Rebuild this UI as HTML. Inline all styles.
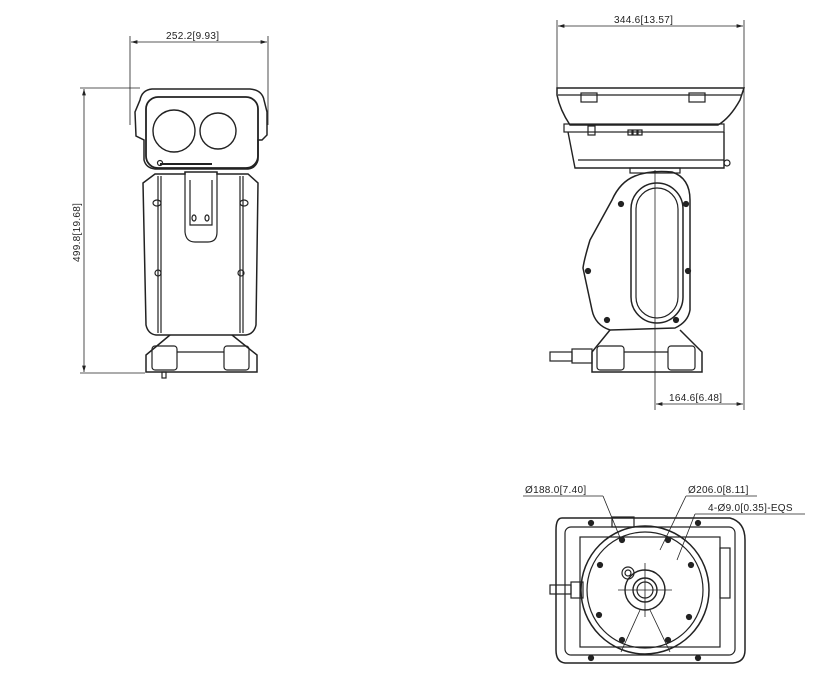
<!DOCTYPE html>
<html><head><meta charset="utf-8"><style>
html,body{margin:0;padding:0;background:#fff}
svg{display:block}
text{font-family:"Liberation Sans",sans-serif;font-size:10px;fill:#222;letter-spacing:0.3px}
</style></head><body>
<svg width="818" height="675" viewBox="0 0 818 675" xmlns="http://www.w3.org/2000/svg">
<defs>
<marker id="a" viewBox="0 0 10 6" refX="10" refY="3" markerWidth="8" markerHeight="5" orient="auto-start-reverse"><path d="M0 0L10 3L0 6z" fill="#222"/></marker>
</defs>
<g fill="none" stroke="#222" stroke-width="1.2">
<line x1="130" y1="36" x2="130" y2="125" stroke-width="0.8"/>
<line x1="268" y1="36" x2="268" y2="125" stroke-width="0.8"/>
<line x1="131" y1="42" x2="267" y2="42" marker-start="url(#a)" marker-end="url(#a)" stroke-width="0.8"/>
<line x1="80" y1="88" x2="140" y2="88" stroke-width="0.8"/>
<line x1="80" y1="373" x2="145" y2="373" stroke-width="0.8"/>
<line x1="84" y1="89" x2="84" y2="372" marker-start="url(#a)" marker-end="url(#a)" stroke-width="0.8"/>
<path d="M140 100 Q142 90 152 89 L250 89 Q262 90 264 100 L267 112 L267 135 L262 140 L258 140 L258 160 Q256 168 248 169 L155 169 Q146 168 144 160 L144 140 L136 136 L135 112 Z" stroke-width="1.5"/>
<rect x="146" y="97" width="112" height="71" rx="12" stroke-width="1.8"/>
<circle cx="174" cy="131" r="21" stroke-width="1.4"/>
<circle cx="218" cy="131" r="18" stroke-width="1.4"/>
<line x1="160" y1="164" x2="212" y2="164" stroke-width="2"/>
<circle cx="160" cy="163" r="2.5"/>
<path d="M143 183 L155 174 L185 174 L185 172 L217 172 L217 174 L248 174 L258 183 L256 325 Q254 334 246 335 L156 335 Q148 334 146 325 Z" stroke-width="1.5"/>
<line x1="158" y1="176" x2="158" y2="333"/><line x1="161" y1="176" x2="161" y2="333"/>
<line x1="240" y1="176" x2="240" y2="333"/><line x1="243" y1="176" x2="243" y2="333"/>
<path d="M185 172 L185 232 Q186 242 195 242 L208 242 Q217 242 217 232 L217 172"/>
<path d="M190 180 L190 225 L212 225 L212 180"/>
<ellipse cx="194" cy="218" rx="2" ry="3"/><ellipse cx="207" cy="218" rx="2" ry="3"/>
<ellipse cx="157" cy="203" rx="4" ry="3"/><ellipse cx="244" cy="203" rx="4" ry="3"/>
<ellipse cx="158" cy="273" rx="3" ry="3"/><ellipse cx="241" cy="273" rx="3" ry="3"/>
<path d="M170 335 L146 355 L146 372 L257 372 L257 355 L232 335" stroke-width="1.5"/>
<rect x="152" y="346" width="25" height="24" rx="3"/>
<rect x="224" y="346" width="25" height="24" rx="3"/>
<line x1="177" y1="352" x2="224" y2="352"/>
<rect x="162" y="372" width="4" height="6"/>

<line x1="557" y1="20" x2="557" y2="88" stroke-width="0.8"/>
<line x1="744" y1="20" x2="744" y2="410" stroke-width="0.8"/>
<line x1="558" y1="26" x2="743" y2="26" marker-start="url(#a)" marker-end="url(#a)" stroke-width="0.8"/>
<line x1="655" y1="170" x2="655" y2="410" stroke-width="0.8"/>
<line x1="656" y1="404" x2="743" y2="404" marker-start="url(#a)" marker-end="url(#a)" stroke-width="0.8"/>
<path d="M557 88 L744 88 L740 100 Q730 118 718 125 L570 125 Q560 110 557 95 Z" stroke-width="1.5"/>
<line x1="558" y1="95" x2="742" y2="95"/>
<rect x="581" y="93" width="16" height="9"/><rect x="689" y="93" width="16" height="9"/>
<rect x="564" y="124" width="160" height="8"/>
<rect x="588" y="126" width="7" height="9"/>
<rect x="628" y="130" width="4" height="5"/><rect x="633" y="130" width="4" height="5"/><rect x="638" y="130" width="4" height="5"/>
<path d="M568 132 L575 168 L724 168 L724 132" stroke-width="1.4"/>
<line x1="578" y1="160" x2="724" y2="160"/>
<circle cx="727" cy="163" r="3"/>
<rect x="630" y="168" width="50" height="5"/>
<path d="M635 176 Q650 170 672 172 Q690 178 690 200 L690 310 Q688 322 675 328 L610 330 Q595 325 592 310 L583 268 Q584 260 590 240 L612 200 Q620 182 635 176 Z" stroke-width="1.5"/>
<rect x="631" y="183" width="52" height="140" rx="26" stroke-width="1.5"/>
<rect x="636" y="188" width="42" height="130" rx="21"/>
<g fill="#222"><circle cx="621" cy="204" r="2.5"/><circle cx="686" cy="204" r="2.5"/><circle cx="588" cy="271" r="2.5"/><circle cx="688" cy="271" r="2.5"/><circle cx="607" cy="320" r="2.5"/><circle cx="676" cy="320" r="2.5"/></g>
<path d="M610 330 L592 352 L592 372 L702 372 L702 352 L680 330" stroke-width="1.5"/>
<rect x="597" y="346" width="27" height="24" rx="3"/>
<rect x="668" y="346" width="27" height="24" rx="3"/>
<line x1="624" y1="352" x2="668" y2="352"/>
<rect x="572" y="349" width="20" height="14"/>
<rect x="550" y="352" width="22" height="9"/>

<line x1="523" y1="496" x2="603" y2="496" stroke-width="0.8"/>
<line x1="603" y1="496" x2="621" y2="540" stroke-width="0.8"/>
<line x1="686" y1="496" x2="757" y2="496" stroke-width="0.8"/>
<line x1="686" y1="496" x2="660" y2="550" stroke-width="0.8"/>
<line x1="695" y1="514" x2="805" y2="514" stroke-width="0.8"/>
<line x1="695" y1="514" x2="677" y2="560" stroke-width="0.8"/>
<path d="M562 518 L730 518 Q745 522 745 540 L745 650 Q745 662 733 663 L565 663 Q556 662 556 650 L556 530 Q556 518 562 518 Z" stroke-width="1.5"/>
<rect x="565" y="527" width="170" height="128" rx="6"/>
<rect x="580" y="537" width="140" height="110"/>
<circle cx="645" cy="590" r="64" stroke-width="1.5"/>
<circle cx="645" cy="590" r="58"/>
<circle cx="645" cy="590" r="20" stroke-width="1.4"/>
<circle cx="645" cy="590" r="12" stroke-width="1.4"/>
<circle cx="645" cy="590" r="8"/>
<circle cx="628" cy="573" r="6"/><circle cx="628" cy="573" r="3"/>
<line x1="618" y1="590" x2="672" y2="590" stroke-width="0.8"/>
<line x1="645" y1="563" x2="645" y2="617" stroke-width="0.8"/>
<line x1="621" y1="652" x2="640" y2="610" stroke-width="0.8"/>
<line x1="670" y1="652" x2="650" y2="610" stroke-width="0.8"/>
<g fill="#222"><circle cx="622" cy="540" r="2.5"/><circle cx="668" cy="540" r="2.5"/><circle cx="691" cy="565" r="2.5"/><circle cx="689" cy="617" r="2.5"/><circle cx="668" cy="640" r="2.5"/><circle cx="622" cy="640" r="2.5"/><circle cx="599" cy="615" r="2.5"/><circle cx="600" cy="565" r="2.5"/><circle cx="591" cy="523" r="2.5"/><circle cx="698" cy="523" r="2.5"/><circle cx="591" cy="658" r="2.5"/><circle cx="698" cy="658" r="2.5"/></g>
<rect x="612" y="517" width="22" height="10"/>
<rect x="720" y="548" width="10" height="50"/>
<rect x="571" y="582" width="12" height="16"/>
<rect x="550" y="585" width="21" height="9"/>
</g>
<text x="166" y="39">252.2[9.93]</text>
<text transform="translate(80,262) rotate(-90)">499.8[19.68]</text>
<text x="614" y="23">344.6[13.57]</text>
<text x="669" y="401">164.6[6.48]</text>
<text x="525" y="493">Ø188.0[7.40]</text>
<text x="688" y="493">Ø206.0[8.11]</text>
<text x="708" y="511">4-Ø9.0[0.35]-EQS</text>
</svg>
</body></html>
